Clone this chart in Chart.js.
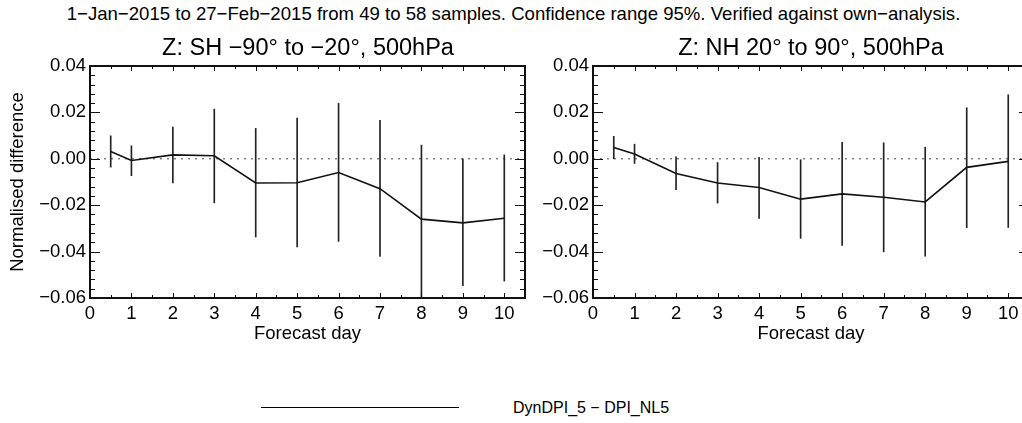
<!DOCTYPE html>
<html>
<head>
<meta charset="utf-8">
<script src="https://cdn.jsdelivr.net/npm/chart.js@4.4.0/dist/chart.umd.min.js"></script>
<style>
  html, body { margin: 0; padding: 0; background: #fff; overflow: hidden; }
  #wrap { position: relative; width: 1022px; height: 423px; overflow: hidden; background: #fff;
          font-family: "Liberation Sans", Arial, sans-serif; color: #000; }
  #mainTitle { position: absolute; left: 0; top: 3px; width: 1027px; text-align: center;
               font-size: 18.6px; line-height: 22px; white-space: nowrap; }
  .subTitle { position: absolute; top: 33px; width: 500px; text-align: center;
              font-size: 23.5px; line-height: 28px; white-space: nowrap; }
  #shTitle { left: 58px; }
  #nhTitle { left: 561px; }
  #shCanvas { position: absolute; left: 0; top: 0; }
  #nhCanvas { position: absolute; left: 503px; top: 0; }
  #legLine { position: absolute; left: 261px; top: 407px; width: 198px; height: 0;
             border-top: 1.5px solid #000; }
  #legText { position: absolute; left: 513px; top: 398px; font-size: 16px; line-height: 20px; white-space: nowrap; }
</style>
</head>
<body>
<div id="wrap">
  <div id="mainTitle">1−Jan−2015 to 27−Feb−2015 from 49 to 58 samples. Confidence range 95%. Verified against own−analysis.</div>
  <canvas id="shCanvas" width="545" height="345"></canvas>
  <canvas id="nhCanvas" width="545" height="345"></canvas>
  <div class="subTitle" id="shTitle">Z: SH −90° to −20°, 500hPa</div>
  <div class="subTitle" id="nhTitle">Z: NH 20° to 90°, 500hPa</div>
  <div id="legLine"></div>
  <div id="legText">DynDPI_5 − DPI_NL5</div>
</div>
<script>
(function(){
  // forecast days and tick values
  const forecastDays = [0.5, 1, 2, 3, 4, 5, 6, 7, 8, 9, 10];
  const xTickValues = [0, 1, 2, 3, 4, 5, 6, 7, 8, 9, 10];
  const yTickValues = [-0.06, -0.04, -0.02, 0.00, 0.02, 0.04];
  const xRange = [0, 10.5];
  const yRange = [-0.06, 0.04];

  // SH -90 to -20, 500hPa
  const shMean = [0.0031, -0.0007, 0.0017, 0.0013, -0.0104, -0.0103, -0.0059, -0.0129, -0.0260, -0.0276, -0.0256];
  const shLow  = [-0.0036, -0.0073, -0.0104, -0.0190, -0.0337, -0.0380, -0.0356, -0.0421, -0.0600, -0.0547, -0.0527];
  const shHigh = [0.0099, 0.0056, 0.0137, 0.0214, 0.0131, 0.0176, 0.0239, 0.0166, 0.0059, 0.0000, 0.0017];

  // NH 20 to 90, 500hPa
  const nhMean = [0.0049, 0.0021, -0.0063, -0.0104, -0.0124, -0.0174, -0.0151, -0.0166, -0.0186, -0.0037, -0.0011];
  const nhLow  = [0.0000, -0.0020, -0.0133, -0.0191, -0.0257, -0.0343, -0.0373, -0.0401, -0.0420, -0.0297, -0.0296];
  const nhHigh = [0.0097, 0.0063, 0.0009, -0.0016, 0.0006, -0.0004, 0.0071, 0.0069, 0.0050, 0.0220, 0.0276];

  const FONT = '"Liberation Sans", Arial, sans-serif';
  const AXIS_SIZE = 18.5;

  function fmtY(v){
    if (Math.abs(v) < 1e-9) return '0.00';
    return (v < 0 ? '\u2212' : '') + Math.abs(v).toFixed(2);
  }

  // box with inward ticks on all four sides, like the original plot
  const frameTicks = {
    id: 'frameTicks',
    afterDatasetsDraw(chart){
      const {ctx, chartArea: a, scales: {x, y}} = chart;
      ctx.save();
      ctx.strokeStyle = '#111';
      ctx.lineWidth = 1;
      ctx.beginPath();
      for (let k = 0; x.min + k * 0.5 <= x.max + 1e-9; k++) {
        const px = Math.round(x.getPixelForValue(x.min + k * 0.5)) + 0.5;
        const len = k % 2 === 0 ? 5 : 3;
        ctx.moveTo(px, a.bottom); ctx.lineTo(px, a.bottom - len);
        ctx.moveTo(px, a.top); ctx.lineTo(px, a.top + len);
      }
      for (let k = 0; y.min + k * 0.004 <= y.max + 1e-9; k++) {
        const py = Math.round(y.getPixelForValue(y.min + k * 0.004)) + 0.5;
        const len = k % 5 === 0 ? 10 : 5;
        ctx.moveTo(a.left, py); ctx.lineTo(a.left + len, py);
        ctx.moveTo(a.right, py); ctx.lineTo(a.right - len, py);
      }
      ctx.stroke();
      ctx.lineWidth = 2;
      ctx.strokeRect(a.left, a.top, a.right - a.left, a.bottom - a.top);
      ctx.restore();
    }
  };

  function makePanel(canvasId, mean, low, high, showYTitle, padRight){
    const ctx = document.getElementById(canvasId);
    return new Chart(ctx, {
      type: 'line',
      data: {
        datasets: [
          {
            type: 'line',
            data: forecastDays.map((d, i) => ({x: d, y: mean[i]})),
            borderColor: '#111',
            borderWidth: 1.6,
            pointRadius: 0,
            tension: 0,
            order: 1
          },
          {
            type: 'bar',
            data: forecastDays.map((d, i) => ({x: d, y: [low[i], high[i]]})),
            backgroundColor: '#222',
            borderWidth: 0,
            barThickness: 1,
            order: 2
          },
          {
            type: 'line',
            data: xRange.map(v => ({x: v, y: 0})),
            borderColor: '#444',
            borderWidth: 1,
            borderDash: [2, 5],
            pointRadius: 0,
            order: 3
          }
        ]
      },
      options: {
        responsive: false,
        animation: false,
        events: [],
        layout: { padding: { top: 66, left: 0, right: padRight, bottom: 0 } },
        plugins: {
          legend: { display: false },
          tooltip: { enabled: false },
          title: { display: false }
        },
        scales: {
          x: {
            type: 'linear',
            min: xRange[0],
            max: xRange[1],
            offset: false,
            grid: { display: false, drawTicks: false },
            border: { display: false },
            afterBuildTicks: s => { s.ticks = xTickValues.map(v => ({value: v})); },
            afterFit: s => { s.height = 47; },
            ticks: {
              autoSkip: false,
              maxRotation: 0,
              padding: 5,
              color: '#000',
              font: { family: FONT, size: AXIS_SIZE },
              callback: v => String(v)
            },
            title: {
              display: true,
              text: 'Forecast day',
              color: '#000',
              font: { family: FONT, size: AXIS_SIZE },
              padding: { top: 0, bottom: 0 }
            }
          },
          y: {
            min: yRange[0],
            max: yRange[1],
            grid: { display: false, drawTicks: false },
            border: { display: false },
            afterBuildTicks: s => { s.ticks = yTickValues.map(v => ({value: v})); },
            afterFit: s => { s.width = 90; },
            ticks: {
              autoSkip: false,
              padding: 4,
              color: '#000',
              font: { family: FONT, size: AXIS_SIZE },
              callback: v => fmtY(v)
            },
            title: {
              display: showYTitle,
              text: 'Normalised difference',
              color: '#000',
              font: { family: FONT, size: AXIS_SIZE },
              padding: { top: 7, bottom: 0 }
            }
          }
        }
      },
      plugins: [frameTicks]
    });
  }

  makePanel('shCanvas', shMean, shLow, shHigh, true, 20);
  makePanel('nhCanvas', nhMean, nhLow, nhHigh, false, 19);
})();
</script>
</body>
</html>
